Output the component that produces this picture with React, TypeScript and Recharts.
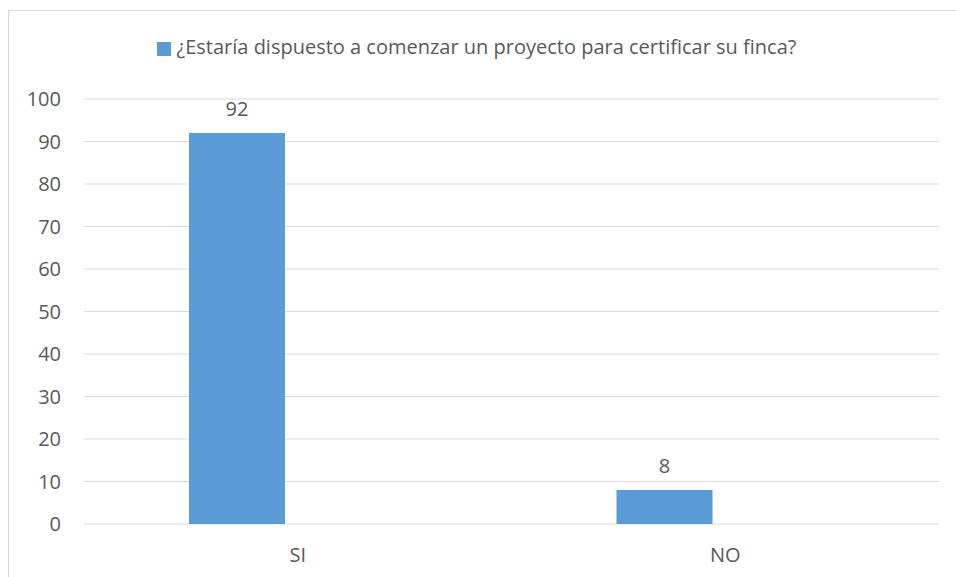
import React from "react";
import { BarChart, Bar, XAxis, YAxis, CartesianGrid, Legend, LabelList } from "recharts";

const categories = ["SI", "NO"];
const seriesValues = [92, 8];
const seriesName = "¿Estaría dispuesto a comenzar un proyecto para certificar su finca?";
const yTicks = [0, 10, 20, 30, 40, 50, 60, 70, 80, 90, 100];

const data = categories.map((c, i) => ({ name: c, value: seriesValues[i], hidden: null }));

const FONT = "'Open Sans', sans-serif";
const TEXT = "#595959";

export default function App() {
  return (
    <div style={{ position: "absolute", left: 8, top: 8, width: 948, height: 569, overflow: "hidden", fontFamily: FONT }}>
      <div style={{ position: "absolute", left: 0, top: 2, width: 1200, height: 1200, border: "1px solid #D9D9D9", boxSizing: "border-box" }} />
      <div style={{ position: "absolute", left: 0, top: 0 }}>
        <BarChart width={948} height={569} data={data} margin={{ top: 63, right: 17, bottom: 13, left: 0 }} barGap={25}>
          <CartesianGrid vertical={false} stroke="#D9D9D9" strokeWidth={1.2} />
          <XAxis dataKey="name" axisLine={false} tickLine={false} tickSize={0} tickMargin={24} height={40}
            tick={{ fill: TEXT, fontSize: 20, fontFamily: FONT }} />
          <YAxis domain={[0, 100]} ticks={yTicks} axisLine={false} tickLine={false} tickSize={0} tickMargin={23} width={76}
            interval={0} tick={{ fill: TEXT, fontSize: 20, fontFamily: FONT }} />
          <Legend verticalAlign="top" align="center" iconType="square" iconSize={14}
            wrapperStyle={{ top: 25, left: 8, fontSize: 20, fontFamily: FONT, lineHeight: "28px" }}
            formatter={(v: string) => <span style={{ color: TEXT, marginLeft: 2 }}>{v}</span>} />
          <Bar dataKey="value" name={seriesName} fill="#5B9BD5" barSize={96} isAnimationActive={false}>
            <LabelList dataKey="value" position="top" offset={17} fill={TEXT} fontSize={20} fontFamily={FONT} />
          </Bar>
          <Bar dataKey="hidden" name="" fill="transparent" barSize={96} legendType="none" isAnimationActive={false} />
        </BarChart>
      </div>
    </div>
  );
}
